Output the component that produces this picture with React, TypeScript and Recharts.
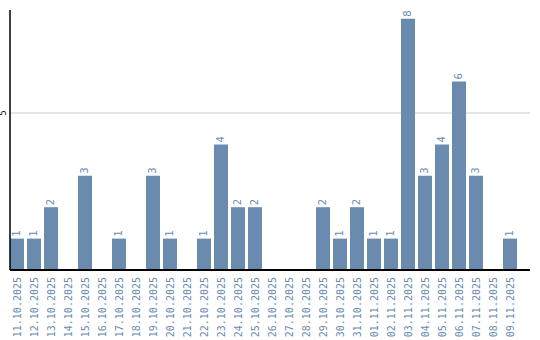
import React from 'react';
import { BarChart, Bar, XAxis, YAxis, CartesianGrid, LabelList } from 'recharts';

const dates = [
  '11.10.2025', '12.10.2025', '13.10.2025', '14.10.2025', '15.10.2025', '16.10.2025',
  '17.10.2025', '18.10.2025', '19.10.2025', '20.10.2025', '21.10.2025', '22.10.2025',
  '23.10.2025', '24.10.2025', '25.10.2025', '26.10.2025', '27.10.2025', '28.10.2025',
  '29.10.2025', '30.10.2025', '31.10.2025', '01.11.2025', '02.11.2025', '03.11.2025',
  '04.11.2025', '05.11.2025', '06.11.2025', '07.11.2025', '08.11.2025', '09.11.2025',
];
const counts = [1, 1, 2, 0, 3, 0, 1, 0, 3, 1, 0, 1, 4, 2, 2, 0, 0, 0, 2, 1, 2, 1, 1, 8, 3, 4, 6, 3, 0, 1];
const yTicks = [5];

const data = dates.map((d, i) => ({ date: d, count: counts[i] }));

const BAR_COLOR = '#6a8bad';
const TEXT_COLOR = '#6a8bb0';

const DateTick = (props: any) => {
  const { x, y, payload } = props;
  return (
    <text
      x={x}
      y={y}
      transform={`rotate(-90, ${x}, ${y})`}
      textAnchor="end"
      dominantBaseline="central"
      fill={TEXT_COLOR}
      fontSize={10}
      fontFamily="DejaVu Sans Mono"
    >
      {payload.value}
    </text>
  );
};

const ValueTick = (props: any) => {
  const { y, payload } = props;
  const tx = 4;
  return (
    <text
      x={tx}
      y={y}
      transform={`rotate(-90, ${tx}, ${y})`}
      textAnchor="middle"
      dominantBaseline="central"
      fill="#000"
      fontSize={8}
      fontFamily="DejaVu Sans"
    >
      {payload.value}
    </text>
  );
};

const BarValue = (props: any) => {
  const { x, y, width, value } = props;
  if (!value) return null;
  const cx = x + width / 2;
  const cy = y - 2;
  return (
    <text
      x={cx}
      y={cy}
      transform={`rotate(-90, ${cx}, ${cy})`}
      textAnchor="start"
      dominantBaseline="central"
      fill={TEXT_COLOR}
      fontSize={10}
      fontFamily="DejaVu Sans"
    >
      {value}
    </text>
  );
};

export default function App() {
  return (
    <div style={{ position: 'absolute', left: 0, top: 0, background: '#fff' }}>
      <BarChart
        width={540}
        height={340}
        data={data}
        margin={{ top: 10, right: 10, left: 0, bottom: 0 }}
        barCategoryGap={1.5}
      >
        <CartesianGrid vertical={false} stroke="#cccccc" horizontalValues={yTicks} />
        <XAxis
          dataKey="date"
          height={70}
          interval={0}
          tickLine={false}
          tickSize={0}
          tickMargin={7}
          axisLine={{ stroke: '#000', strokeWidth: 2 }}
          tick={<DateTick />}
          padding={{ left: -1.5, right: 11.5 }}
        />
        <YAxis
          width={10}
          domain={[0, 8.28]}
          ticks={yTicks}
          tickLine={false}
          axisLine={{ stroke: '#000', strokeWidth: 1.5 }}
          tick={<ValueTick />}
        />
        <Bar dataKey="count" fill={BAR_COLOR} isAnimationActive={false}>
          <LabelList dataKey="count" content={<BarValue />} />
        </Bar>
      </BarChart>
    </div>
  );
}
